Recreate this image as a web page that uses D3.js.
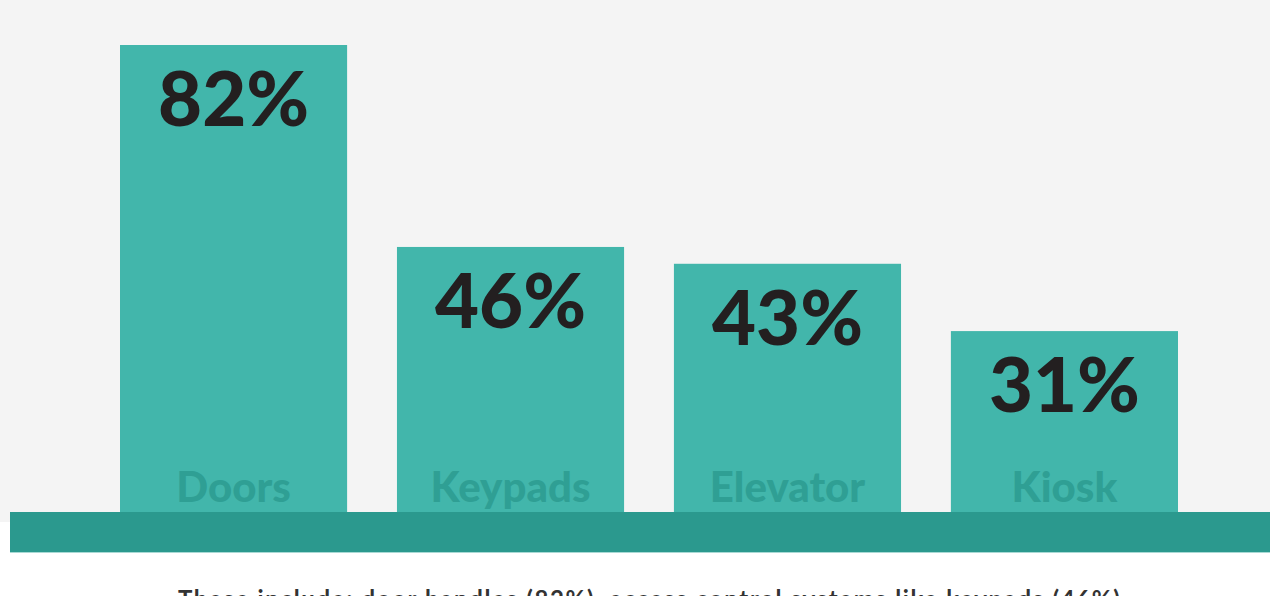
<!DOCTYPE html>
<html>
<head>
  <meta charset="utf-8">
  <script src="https://d3js.org/d3.v7.min.js"></script>
  <style type="text/css">
    body { margin: 0; background: #fff; overflow: hidden; }
    svg { display: block; }
  </style>
</head>
<body>
  <div id="chart"></div>
  <script type="text/javascript">
    var categories = ['Doors', 'Keypads', 'Elevator', 'Kiosk'];
    var values = [82, 46, 43, 31];
    var valueLabels = ['82%', '46%', '43%', '31%'];
    var caption = 'These include: door handles (82%), access control systems like keypads (46%),';

    var width = 1270, height = 596;
    var baseTop = 512;

    var svg = d3.select('#chart').append('svg')
      .attr('width', width)
      .attr('height', height);

    // grey panel behind the bars
    svg.append('rect')
      .attr('x', 0).attr('y', 0)
      .attr('width', width).attr('height', 522)
      .attr('fill', '#f4f4f4');

    var x = d3.scaleBand()
      .domain(categories)
      .range([120, 1178])
      .paddingInner(0.18)
      .paddingOuter(0);

    var y = d3.scaleLinear()
      .domain([0, 82])
      .range([505, 45]);

    var bars = svg.selectAll('.bar')
      .data(categories)
      .enter().append('g')
      .attr('class', 'bar');

    bars.append('rect')
      .attr('x', function(d) { return x(d); })
      .attr('y', function(d, i) { return y(values[i]); })
      .attr('width', x.bandwidth())
      .attr('height', function(d, i) { return baseTop - y(values[i]); })
      .attr('fill', '#42b6ab');

    bars.append('text')
      .attr('x', function(d) { return x(d) + x.bandwidth() / 2; })
      .attr('y', function(d, i) { return y(values[i]) + 81; })
      .attr('text-anchor', 'middle')
      .style('font-family', 'Lato, sans-serif')
      .style('font-weight', '900')
      .style('font-size', '76px')
      .style('fill', '#231f20')
      .text(function(d, i) { return valueLabels[i]; });

    bars.append('text')
      .attr('x', function(d) { return x(d) + x.bandwidth() / 2; })
      .attr('y', 502)
      .attr('text-anchor', 'middle')
      .style('font-family', 'Lato, sans-serif')
      .style('font-weight', '900')
      .style('font-size', '42px')
      .style('fill', '#2f9f94')
      .text(function(d) { return d; });

    // base strip
    svg.append('rect')
      .attr('x', 10).attr('y', baseTop)
      .attr('width', width - 10).attr('height', 40)
      .attr('fill', '#2b998e');
    svg.append('rect')
      .attr('x', 10).attr('y', baseTop + 40)
      .attr('width', width - 10).attr('height', 1)
      .attr('fill', '#a9d9d4');

    // caption runs past the bottom edge, as in the original crop
    svg.append('text')
      .attr('x', 178)
      .attr('y', 608)
      .style('font-family', 'Lato, sans-serif')
      .style('font-weight', '700')
      .style('font-size', '24px')
      .style('fill', '#333')
      .attr('textLength', 949)
      .text(caption);
  </script>
</body>
</html>
